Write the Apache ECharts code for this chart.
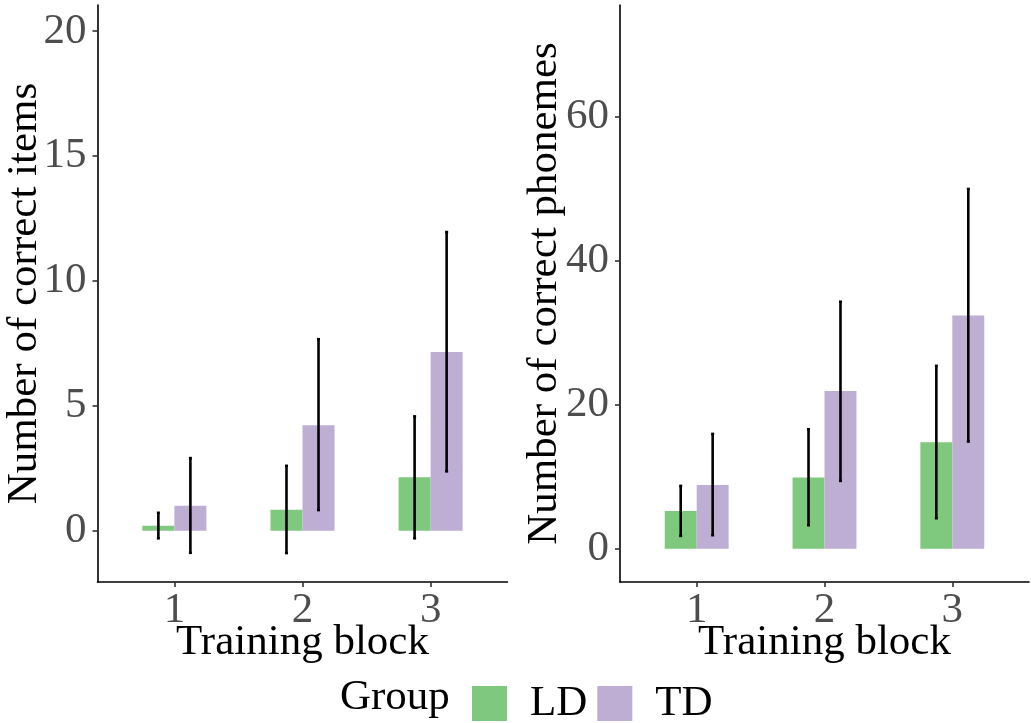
<!DOCTYPE html>
<html>
<head>
<meta charset="utf-8">
<script src="https://cdn.jsdelivr.net/npm/echarts@6/dist/echarts.min.js"></script>
<style>html,body{margin:0;padding:0;background:#fff;}#c{width:1031px;height:723px;}</style>
</head>
<body>
<div id="c"></div>
<script>
// ---- data ----
const blocks = [1, 2, 3];
const groups = ['LD', 'TD'];
const itemsLD = [0.2, 0.84, 2.14];
const itemsLDLow = [-0.3, -0.89, -0.3];
const itemsLDHigh = [0.72, 2.6, 4.58];
const itemsTD = [1.0, 4.23, 7.16];
const itemsTDLow = [-0.88, 0.83, 2.38];
const itemsTDHigh = [2.91, 7.67, 11.96];
const phonLD = [5.27, 9.9, 14.8];
const phonLDLow = [1.8, 3.28, 4.26];
const phonLDHigh = [8.74, 16.6, 25.4];
const phonTD = [8.88, 21.9, 32.4];
const phonTDLow = [1.9, 9.44, 14.9];
const phonTDHigh = [15.96, 34.3, 49.96];
const itemTicks = [0, 5, 10, 15, 20];
const phonTicks = [0, 20, 40, 60];

const FONT = 'Liberation Serif';
const COLORS = {LD: '#7FC97F', TD: '#BEAED4'};
const BARW = 0.25;

function barRender(offset) {
  return function (params, api) {
    const x = api.value(0), y = api.value(1);
    const p0 = api.coord([x + offset, 0]);
    const p1 = api.coord([x + offset + BARW, y]);
    return {
      type: 'rect',
      shape: {x: p0[0], y: Math.min(p0[1], p1[1]), width: p1[0] - p0[0], height: Math.abs(p1[1] - p0[1])},
      style: {fill: api.visual('color')}
    };
  };
}
function errRender(offset) {
  return function (params, api) {
    const x = api.value(0) + offset + BARW / 2;
    const lo = api.coord([x, api.value(1)]);
    const hi = api.coord([x, api.value(2)]);
    const st = {stroke: '#000', lineWidth: 2.6};
    return {
      type: 'group',
      children: [
        {type: 'line', shape: {x1: lo[0], y1: lo[1], x2: hi[0], y2: hi[1]}, style: st},
        {type: 'line', shape: {x1: lo[0] - 1.5, y1: lo[1], x2: lo[0] + 1.5, y2: lo[1]}, style: st},
        {type: 'line', shape: {x1: hi[0] - 1.5, y1: hi[1], x2: hi[0] + 1.5, y2: hi[1]}, style: st}
      ]
    };
  };
}
function zip2(a, b) { return a.map((v, i) => [v, b[i]]); }
function zip3(a, b, c) { return a.map((v, i) => [v, b[i], c[i]]); }

function panelSeries(idx, ld, ldLo, ldHi, td, tdLo, tdHi) {
  return [
    {type: 'custom', name: 'LD', xAxisIndex: idx, yAxisIndex: idx, renderItem: barRender(-BARW),
     itemStyle: {color: COLORS.LD}, data: zip2(blocks, ld), encode: {x: 0, y: 1}, z: 2},
    {type: 'custom', name: 'TD', xAxisIndex: idx, yAxisIndex: idx, renderItem: barRender(0),
     itemStyle: {color: COLORS.TD}, data: zip2(blocks, td), encode: {x: 0, y: 1}, z: 2},
    {type: 'custom', name: 'errLD', xAxisIndex: idx, yAxisIndex: idx, renderItem: errRender(-BARW),
     data: zip3(blocks, ldLo, ldHi), encode: {x: 0, y: [1, 2]}, z: 5},
    {type: 'custom', name: 'errTD', xAxisIndex: idx, yAxisIndex: idx, renderItem: errRender(0),
     data: zip3(blocks, tdLo, tdHi), encode: {x: 0, y: [1, 2]}, z: 5}
  ];
}

const axisLine = {show: true, onZero: false, lineStyle: {color: '#000', width: 1.6}};
const tickStyle = {color: '#333', width: 1.6};
const labelStyle = {fontFamily: FONT, fontSize: 43, color: '#4D4D4D'};
const nameStyle = {fontFamily: FONT, fontSize: 43, color: '#000'};

function xAxisDef(idx) {
  return {
    gridIndex: idx, type: 'value', min: 0.4, max: 3.6,
    axisLine: axisLine,
    axisTick: {show: true, customValues: blocks, length: 5, lineStyle: tickStyle},
    axisLabel: Object.assign({customValues: blocks, margin: 7}, labelStyle),
    splitLine: {show: false},
    name: 'Training block', nameLocation: 'middle', nameGap: 39, nameMoveOverlap: false,
    nameTextStyle: nameStyle
  };
}
function yAxisDef(idx, min, max, ticks, name, gap) {
  return {
    gridIndex: idx, type: 'value', min: min, max: max,
    axisLine: axisLine,
    axisTick: {show: true, customValues: ticks, length: 5, lineStyle: tickStyle},
    axisLabel: Object.assign({customValues: ticks, margin: 11}, labelStyle),
    splitLine: {show: false},
    name: name, nameLocation: 'middle', nameGap: gap, nameMoveOverlap: false,
    nameTextStyle: nameStyle
  };
}

const chart = echarts.init(document.getElementById('c'), null, {renderer: 'canvas'});
chart.setOption({
  backgroundColor: '#fff',
  animation: false,
  title: {text: 'Group', left: 340, top: 676, padding: 0,
    textStyle: {fontFamily: FONT, fontSize: 43, fontWeight: 'normal', color: '#000'}},
  legend: {
    data: groups, left: 472, top: 682, padding: 0, itemWidth: 35, itemHeight: 35, itemGap: 10,
    icon: 'rect', selectedMode: false,
    textStyle: {fontFamily: FONT, fontSize: 43, color: '#000', padding: [0, 0, 0, 18]}
  },
  grid: [
    {left: 97.5, top: 5, width: 410, height: 577, outerBoundsMode: 'none', containLabel: false},
    {left: 620, top: 5, width: 409, height: 577, outerBoundsMode: 'none', containLabel: false}
  ],
  xAxis: [xAxisDef(0), xAxisDef(1)],
  yAxis: [
    yAxisDef(0, -2.05, 21.05, itemTicks, 'Number of correct items', 51),
    yAxisDef(1, -4.6, 75.5, phonTicks, 'Number of correct phonemes', 54)
  ],
  series: [].concat(
    panelSeries(0, itemsLD, itemsLDLow, itemsLDHigh, itemsTD, itemsTDLow, itemsTDHigh),
    panelSeries(1, phonLD, phonLDLow, phonLDHigh, phonTD, phonTDLow, phonTDHigh)
  )
});
</script>
</body>
</html>
